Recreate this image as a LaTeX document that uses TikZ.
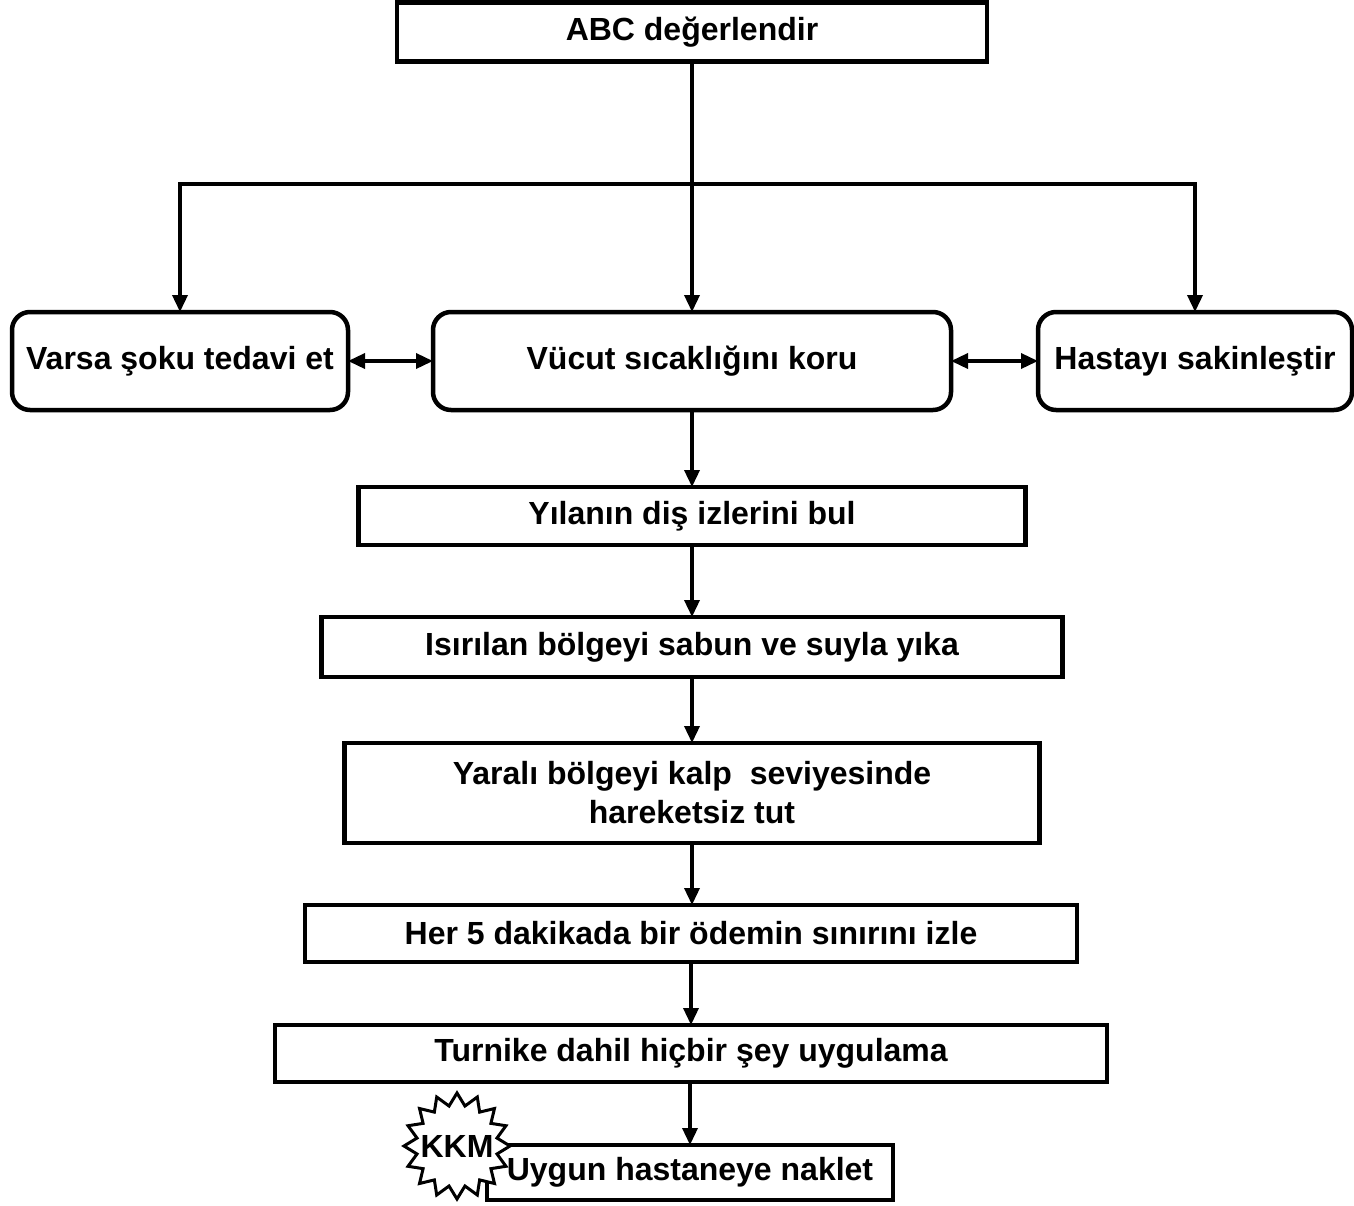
\documentclass[tikz,border=0pt]{standalone}
\usepackage{fontspec}
\setmainfont{Liberation Sans}
\usetikzlibrary{arrows.meta,shapes.geometric}
\begin{document}
\begin{tikzpicture}[x=1pt,y=-1pt,
  every node/.style={font=\bfseries\fontsize{32}{39}\selectfont, inner sep=0pt, outer sep=0pt},
  sqbox/.style={draw, line width=4.5pt, fill=white, align=center},
  rbox/.style={draw, line width=4.5pt, fill=white, rounded corners=18pt, align=center},
  conn/.style={line width=3.5pt, -{Triangle[width=15pt,length=17pt]}},
  dconn/.style={line width=3.5pt, {Triangle[width=15pt,length=17pt]}-{Triangle[width=15pt,length=17pt]}}]
\useasboundingbox (0,0) rectangle (1354,1205);
\node[sqbox, minimum width=590pt, minimum height=59pt] (abc) at (692,32) {ABC değerlendir};
\node[rbox, minimum width=336pt, minimum height=98pt] (varsa) at (180,361) {Varsa şoku tedavi et};
\node[rbox, minimum width=518pt, minimum height=98pt] (vucut) at (692,361) {Vücut sıcaklığını koru};
\node[rbox, minimum width=314pt, minimum height=98pt] (hasta) at (1195,361) {Hastayı sakinleştir};
\node[sqbox, minimum width=667pt, minimum height=58pt] (yilan) at (692,516) {Yılanın diş izlerini bul};
\node[sqbox, minimum width=741pt, minimum height=60pt] (isir) at (692,647) {Isırılan bölgeyi sabun ve suyla yıka};
\node[sqbox, minimum width=695pt, minimum height=100pt] (yarali) at (692,793) {Yaralı bölgeyi kalp\ \ seviyesinde\\hareketsiz tut};
\node[sqbox, minimum width=772pt, minimum height=57pt] (her) at (691,933.5) {Her 5 dakikada bir ödemin sınırını izle};
\node[sqbox, minimum width=832pt, minimum height=57pt] (turn) at (691,1053.5) {Turnike dahil hiçbir şey uygulama};
\node[sqbox, minimum width=406pt, minimum height=55pt] (uygun) at (690,1172.5) {Uygun hastaneye naklet};
\node[star, star points=16, star point ratio=1.3, draw, line width=3pt, fill=white, minimum size=106pt, inner sep=0pt] (kkm) at (457,1146) {};
\node (kkmt) at (457,1146) {KKM};
\coordinate (j) at (692,184);
\draw[line width=3.5pt] (abc.south) -- (j);
\draw[conn] (j) -- (vucut.north);
\draw[conn] (j) -| (varsa.north);
\draw[conn] (j) -| (hasta.north);
\draw[dconn] (varsa.east) -- (vucut.west);
\draw[dconn] (vucut.east) -- (hasta.west);
\draw[conn] (vucut.south) -- (yilan.north);
\draw[conn] (yilan.south) -- (isir.north);
\draw[conn] (isir.south) -- (yarali.north);
\draw[conn] (yarali.south) -- (yarali.south |- her.north);
\draw[conn] (her.south) -- (turn.north);
\draw[conn] (turn.south -| uygun.north) -- (uygun.north);
\end{tikzpicture}
\end{document}
